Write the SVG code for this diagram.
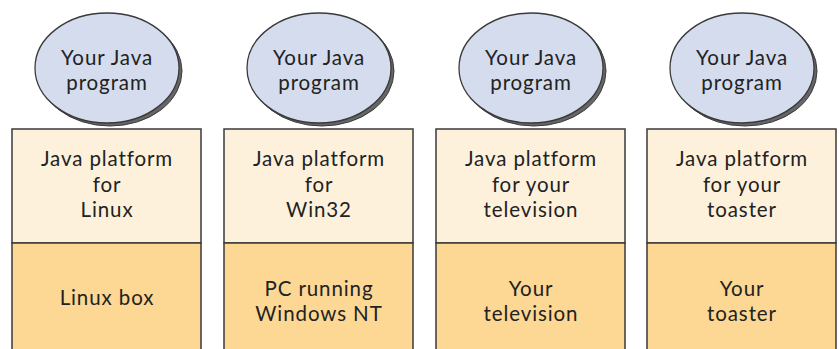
<svg xmlns="http://www.w3.org/2000/svg" width="839" height="349" viewBox="0 0 839 349">
<style>
.top{fill:#fdf1dc;stroke:#3a3a3a;stroke-width:1.5}
.bot{fill:#fdd894;stroke:#3a3a3a;stroke-width:1.5}
.ell{fill:#d4dcee;stroke:#3a3a3a;stroke-width:1.3}
.sh{fill:#666;stroke:#3a3a3a;stroke-width:1}
text{font-family:Lato,"Open Sans",sans-serif;font-size:20.5px;letter-spacing:0.9px;fill:#222;text-anchor:middle}
</style>
<rect width="839" height="349" fill="#fff"/>
<g id="col1">
<rect class="top" x="12" y="129" width="189" height="114"/>
<rect class="bot" x="12" y="243" width="189" height="112"/>
<ellipse class="sh" cx="110" cy="71" rx="72" ry="55"/>
<ellipse class="ell" cx="107" cy="68" rx="72" ry="55"/>
<text x="107" y="65">Your Java</text><text x="107" y="90">program</text>
<text x="107" y="166">Java platform</text><text x="107" y="192">for</text><text x="107" y="217">Linux</text>
<text x="107" y="305">Linux box</text>
</g>
<g id="col2">
<rect class="top" x="224" y="129" width="189" height="114"/>
<rect class="bot" x="224" y="243" width="189" height="112"/>
<ellipse class="sh" cx="322" cy="71" rx="72" ry="55"/>
<ellipse class="ell" cx="319" cy="68" rx="72" ry="55"/>
<text x="319" y="65">Your Java</text><text x="319" y="90">program</text>
<text x="319" y="166">Java platform</text><text x="319" y="192">for</text><text x="319" y="217">Win32</text>
<text x="319" y="296">PC running</text><text x="319" y="321">Windows NT</text>
</g>
<g id="col3">
<rect class="top" x="436" y="129" width="189" height="114"/>
<rect class="bot" x="436" y="243" width="189" height="112"/>
<ellipse class="sh" cx="534" cy="71" rx="72" ry="55"/>
<ellipse class="ell" cx="531" cy="68" rx="72" ry="55"/>
<text x="531" y="65">Your Java</text><text x="531" y="90">program</text>
<text x="531" y="166">Java platform</text><text x="531" y="192">for your</text><text x="531" y="217">television</text>
<text x="531" y="296">Your</text><text x="531" y="321">television</text>
</g>
<g id="col4">
<rect class="top" x="647" y="129" width="189" height="114"/>
<rect class="bot" x="647" y="243" width="189" height="112"/>
<ellipse class="sh" cx="745" cy="71" rx="72" ry="55"/>
<ellipse class="ell" cx="742" cy="68" rx="72" ry="55"/>
<text x="742" y="65">Your Java</text><text x="742" y="90">program</text>
<text x="742" y="166">Java platform</text><text x="742" y="192">for your</text><text x="742" y="217">toaster</text>
<text x="742" y="296">Your</text><text x="742" y="321">toaster</text>
</g>
<g id="connectors"></g>
</svg>
